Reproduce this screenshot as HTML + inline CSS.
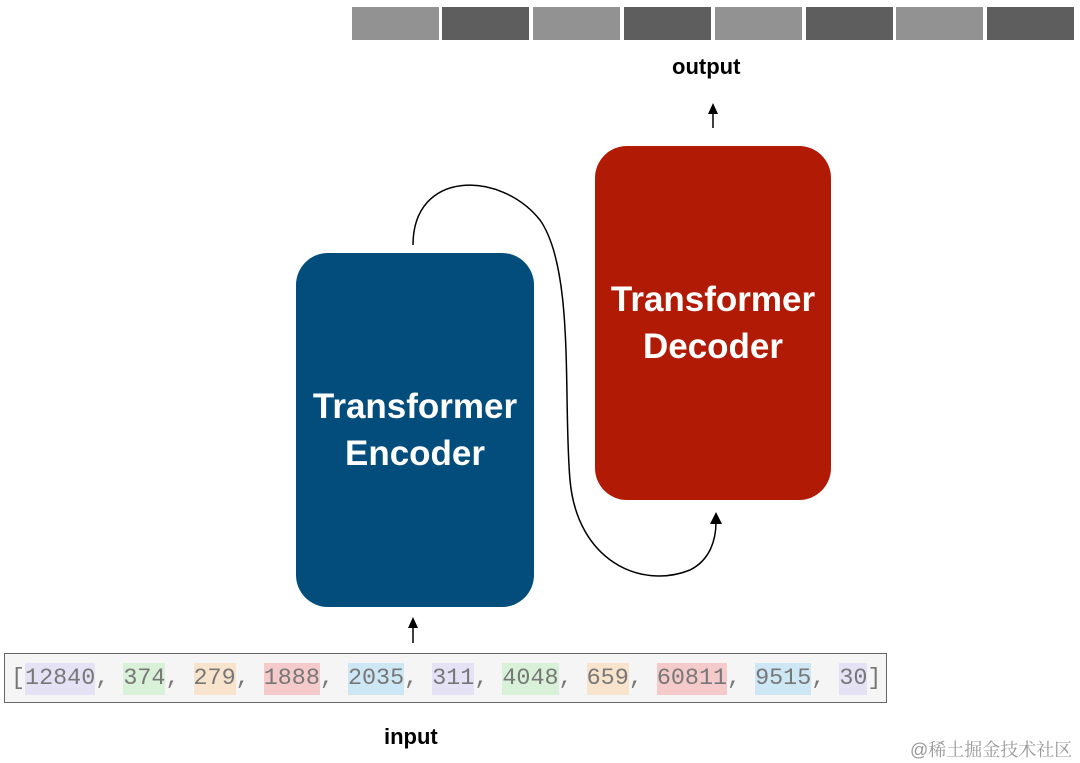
<!DOCTYPE html>
<html><head><style>
body{margin:0;width:1080px;height:763px;background:#fff;position:relative;overflow:hidden;font-family:"Liberation Sans",sans-serif}
.seg{position:absolute;top:7px;height:33px;width:87px}
.l{background:#929292}.d{background:#5e5e5e}
.box{position:absolute;border-radius:32px;color:#fff;font-weight:bold;font-size:35px;text-align:center;display:flex;align-items:center;justify-content:center;line-height:47px}
.inp{position:absolute;left:4px;top:653px;width:883px;height:50px;background:#f5f5f5;border:1px solid #666;font-family:"Liberation Mono",monospace;font-size:23.4px;color:#777;line-height:50px;padding-left:6px;box-sizing:border-box;white-space:pre}
.inp span{padding:3px 0}
.p{background:#e6e2f5}.g{background:#d9f0d9}.o{background:#f8e4cc}.r{background:#f5caca}.b{background:#cde7f5}
.lab{position:absolute;font-weight:bold;font-size:22px;color:#000}
</style></head><body>
<div class="seg l" style="left:352px"></div>
<div class="seg d" style="left:442px"></div>
<div class="seg l" style="left:533px"></div>
<div class="seg d" style="left:624px"></div>
<div class="seg l" style="left:715px"></div>
<div class="seg d" style="left:806px"></div>
<div class="seg l" style="left:896px"></div>
<div class="seg d" style="left:987px"></div>
<div class="lab" style="left:672px;top:54px">output</div>
<div class="box" style="left:296px;top:253px;width:238px;height:354px;background:#024d7c">Transformer<br>Encoder</div>
<div class="box" style="left:595px;top:146px;width:236px;height:354px;background:#b11a04">Transformer<br>Decoder</div>
<svg width="1080" height="763" style="position:absolute;left:0;top:0" fill="none" stroke="#000" stroke-width="1.5">
<path d="M413,245 C413,170 500,170 540,220 C575,270 563,400 570,480 C577,560 640,590 690,570 C710,560 716,540 716,522"/>
<path d="M710,524 L716,512 L722,524 Z" fill="#000" stroke="none"/>
<line x1="413" y1="643" x2="413" y2="625"/>
<path d="M408,628 L413,617 L418,628 Z" fill="#000" stroke="none"/>
<line x1="713" y1="128" x2="713" y2="111"/>
<path d="M708,114 L713,103 L718,114 Z" fill="#000" stroke="none"/>
</svg>
<div class="inp">[<span class="p">12840</span>, <span class="g">374</span>, <span class="o">279</span>, <span class="r">1888</span>, <span class="b">2035</span>, <span class="p">311</span>, <span class="g">4048</span>, <span class="o">659</span>, <span class="r">60811</span>, <span class="b">9515</span>, <span class="p">30</span>]</div>
<div class="lab" style="left:384px;top:724px">input</div>
<div style="position:absolute;left:910px;top:736px;font-size:18px;color:#999;font-family:'Liberation Sans','Noto Serif CJK SC',serif">@稀土掘金技术社区</div>
</body></html>
